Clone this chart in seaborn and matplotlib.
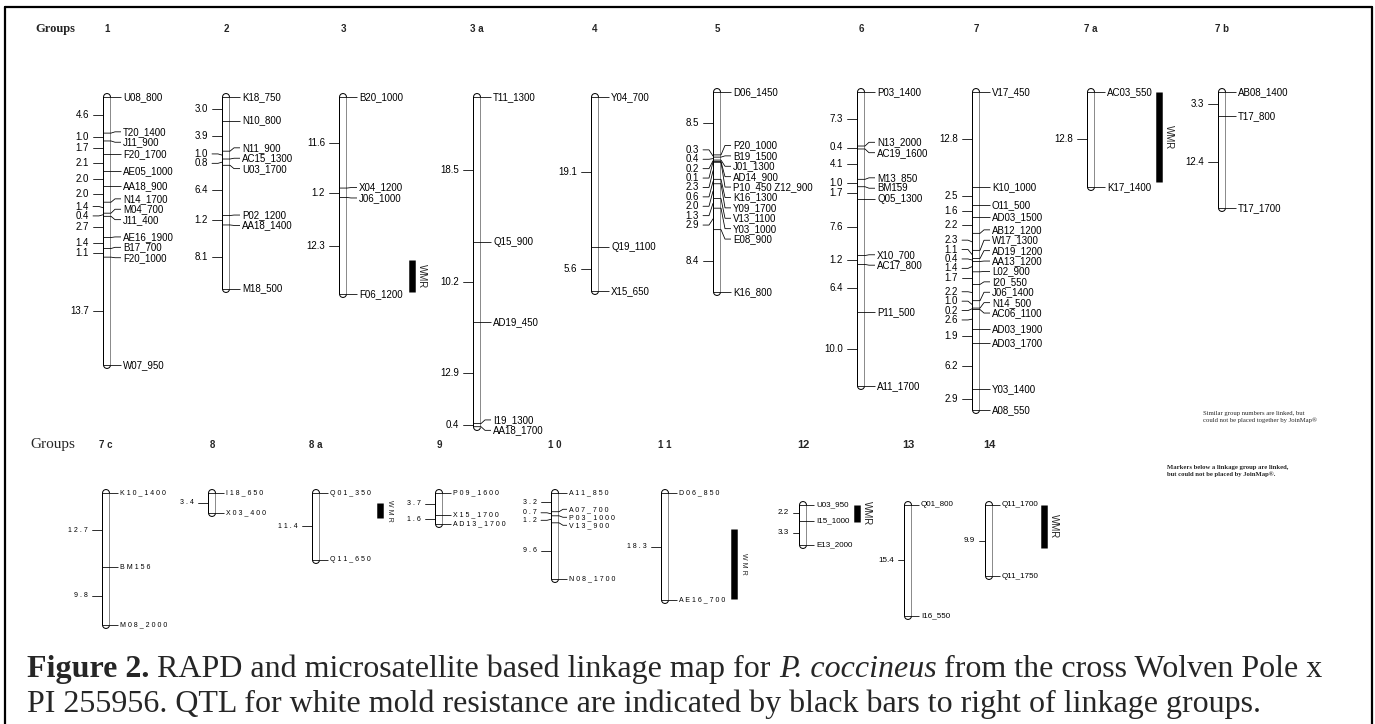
import numpy as np
import seaborn as sns
import matplotlib.pyplot as plt
from matplotlib.lines import Line2D

# --- linkage groups: marker names (top to bottom) and interval lengths (cM) ---
g1_markers = ["U08_800", "T20_1400", "J11_900", "F20_1700", "AE05_1000", "AA18_900",
              "N14_1700", "M04_700", "J11_400", "AE16_1900", "B17_700", "F20_1000", "W07_950"]
g1_cm = [4.6, 1.0, 1.7, 2.1, 2.0, 2.0, 1.4, 0.4, 2.7, 1.4, 1.1, 13.7]

g2_markers = ["K18_750", "N10_800", "N11_900", "AC15_1300", "U03_1700", "P02_1200",
              "AA18_1400", "M18_500"]
g2_cm = [3.0, 3.9, 1.0, 0.8, 6.4, 1.2, 8.1]

g3_markers = ["B20_1000", "X04_1200", "J06_1000", "F06_1200"]
g3_cm = [11.6, 1.2, 12.3]

g3a_markers = ["T11_1300", "Q15_900", "AD19_450", "I19_1300", "AA18_1700"]
g3a_cm = [18.5, 10.2, 12.9, 0.4]

g4_markers = ["Y04_700", "Q19_1100", "X15_650"]
g4_cm = [19.1, 5.6]

g5_markers = ["D06_1450", "P20_1000", "B19_1500", "J01_1300", "AD14_900", "P10_450 Z12_900",
              "K16_1300", "Y09_1700", "V13_1100", "Y03_1000", "E08_900", "K16_800"]
g5_cm = [8.5, 0.3, 0.4, 0.2, 0.1, 2.3, 0.6, 2.0, 1.3, 2.9, 8.4]

g6_markers = ["P03_1400", "N13_2000", "AC19_1600", "M13_850", "BM159", "Q05_1300",
              "X10_700", "AC17_800", "P11_500", "A11_1700"]
g6_cm = [7.3, 0.4, 4.1, 1.0, 1.7, 7.6, 1.2, 6.4, 10.0]

g7_markers = ["V17_450", "K10_1000", "O11_500", "AD03_1500", "AB12_1200", "W17_1300",
              "AD19_1200", "AA13_1200", "L02_900", "I20_550", "J06_1400", "N14_500",
              "AC06_1100", "AD03_1900", "AD03_1700", "Y03_1400", "A08_550"]
g7_cm = [12.8, 2.5, 1.6, 2.2, 2.3, 1.1, 0.4, 1.4, 1.7, 2.2, 1.0, 0.2, 2.6, 1.9, 6.2, 2.9]

g7a_markers = ["AC03_550", "K17_1400"]
g7a_cm = [12.8]

g7b_markers = ["AB08_1400", "T17_800", "T17_1700"]
g7b_cm = [3.3, 12.4]

g7c_markers = ["K10_1400", "BM156", "M08_2000"]
g7c_cm = [12.7, 9.8]

g8_markers = ["I18_650", "X03_400"]
g8_cm = [3.4]

g8a_markers = ["Q01_350", "Q11_650"]
g8a_cm = [11.4]

g9_markers = ["P09_1600", "X15_1700", "AD13_1700"]
g9_cm = [3.7, 1.6]

g10_markers = ["A11_850", "A07_700", "P03_1000", "V13_900", "N08_1700"]
g10_cm = [3.2, 0.7, 1.2, 9.6]

g11_markers = ["D06_850", "AE16_700"]
g11_cm = [18.3]

g12_markers = ["U03_950", "I15_1000", "E13_2000"]
g12_cm = [2.2, 3.3]

g13_markers = ["Q01_800", "I16_550"]
g13_cm = [15.4]

g14_markers = ["Q11_1700", "Q11_1750"]
g14_cm = [9.9]

# white mold resistance QTL (cM from top of group)
qtl_groups = ["3", "7a", "8a", "11", "12", "14"]
qtl_start = [20.8, 0.0, 1.7, 6.2, 0.0, 0.0]
qtl_end = [24.8, 12.2, 4.3, 18.1, 2.3, 6.0]

groups = [
    ("1", g1_markers, g1_cm), ("2", g2_markers, g2_cm), ("3", g3_markers, g3_cm),
    ("3a", g3a_markers, g3a_cm), ("4", g4_markers, g4_cm), ("5", g5_markers, g5_cm),
    ("6", g6_markers, g6_cm), ("7", g7_markers, g7_cm), ("7a", g7a_markers, g7a_cm),
    ("7b", g7b_markers, g7b_cm), ("7c", g7c_markers, g7c_cm), ("8", g8_markers, g8_cm),
    ("8a", g8a_markers, g8a_cm), ("9", g9_markers, g9_cm), ("10", g10_markers, g10_cm),
    ("11", g11_markers, g11_cm), ("12", g12_markers, g12_cm), ("13", g13_markers, g13_cm),
    ("14", g14_markers, g14_cm),
]

# --- layout (pixels): centre x, top y, px per cM, style, header text ---
W, H = 1375, 724
PX = 0.72  # points per pixel at dpi 100
layout = {
    "1": (107, 97, 7.85, "top", "1"), "2": (226, 97, 7.85, "top", "2"),
    "3": (343, 97, 7.85, "top", "3"), "3a": (477, 97, 7.85, "top", "3 a"),
    "4": (595, 97, 7.85, "top", "4"), "5": (717, 92, 7.4, "top", "5"),
    "6": (861, 92, 7.4, "top", "6"), "7": (976, 92, 7.4, "top", "7"),
    "7a": (1091, 92, 7.4, "top", "7 a"), "7b": (1222, 92, 7.4, "top", "7 b"),
    "7c": (106, 493, 5.85, "small", "7 c"), "8": (212, 493, 5.85, "small", "8"),
    "8a": (316, 493, 5.85, "small", "8 a"), "9": (439, 493, 5.85, "small", "9"),
    "10": (555, 493, 5.85, "small", "1 0"), "11": (665, 493, 5.85, "small", "1 1"),
    "12": (803, 505, 7.2, "mid", "12"), "13": (908, 505, 7.2, "mid", "13"),
    "14": (989, 505, 7.2, "mid", "14"),
}
styles = {
    "top": dict(size=7, head=7, gap_m=10.4, gap_d=9.4, lab_dx=16, dist_dx=18, spaced=False),
    "small": dict(size=5, head=7, gap_m=8.0, gap_d=7.5, lab_dx=14, dist_dx=18, spaced=True),
    "mid": dict(size=5.8, head=8, gap_m=9.5, gap_d=9.0, lab_dx=13, dist_dx=14, spaced=False),
}
qtl_dx = {"3": 69, "7a": 68, "8a": 64, "11": 69, "12": 54, "14": 55}

sns.set_theme(style="white")
plt.rcParams["font.family"] = ["Liberation Sans", "DejaVu Sans"]
SANS = ["Liberation Sans", "DejaVu Sans"]
SERIF = ["Liberation Serif", "DejaVu Serif"]


def spread(want, gap):
    # push overlapping labels apart, clusters centred on their extremes
    clusters = [[w, w, 1] for w in want]

    def start(c):
        return (c[0] + c[1]) / 2 - (c[2] - 1) * gap / 2

    merged = True
    while merged:
        merged = False
        for k in range(len(clusters) - 1):
            a, b = clusters[k], clusters[k + 1]
            if start(a) + a[2] * gap > start(b) + 1e-9:
                clusters[k] = [a[0], b[1], a[2] + b[2]]
                del clusters[k + 1]
                merged = True
                break
    out = []
    for c in clusters:
        s = start(c)
        out += [s + i * gap for i in range(c[2])]
    return np.array(out)


def fmt(s, spaced):
    return " ".join(s) if spaced else s


fig = plt.figure(figsize=(W / 100, H / 100), dpi=100)

for name, markers, cm in groups:
    cx, top, scale, sty, head = layout[name]
    st = styles[sty]
    pos = np.concatenate([[0.0], np.cumsum(cm)])
    total = pos[-1]
    ax = fig.add_axes([(cx - 90) / W, 1 - (top + total * scale) / H, 180 / W, total * scale / H])
    ax.set_xlim(-90, 90)
    ax.set_ylim(total, 0)
    ax.axis("off")

    # chromosome rod
    ax.plot([0, 0], [0, total], color="black", lw=8 * PX, solid_capstyle="round", clip_on=False)
    ax.plot([0, 0], [0, total], color="white", lw=6 * PX, solid_capstyle="round", clip_on=False)
    ax.plot([2.6, 2.6], [0, total], color="0.55", lw=1.0 * PX, clip_on=False)

    # markers on the right
    lab = spread(pos * scale, st["gap_m"]) / scale
    for m, yt, yl in zip(markers, pos, lab):
        ax.plot([-4, 4, 8, st["lab_dx"] - 2], [yt, yt, yl, yl], color="black",
                lw=0.8 * PX, clip_on=False, solid_capstyle="butt")
        ax.text(st["lab_dx"], yl, fmt(m, st["spaced"]), ha="left", va="center",
                fontsize=st["size"], color="black", family=SANS)

    # interval distances on the left
    mids = (pos[:-1] + pos[1:]) / 2
    dlab = spread(mids * scale, st["gap_d"]) / scale
    for d, yt, yl in zip(cm, mids, dlab):
        ax.plot([-4, -8, -(st["dist_dx"] - 4)], [yt, yl, yl], color="black",
                lw=0.8 * PX, clip_on=False)
        ax.text(-st["dist_dx"], yl, fmt(f"{d:.1f}", st["spaced"]), ha="right", va="center",
                fontsize=st["size"], color="black", family=SANS)

    # QTL bar
    if name in qtl_groups:
        k = qtl_groups.index(name)
        bx = qtl_dx[name]
        ax.plot([bx, bx], [qtl_start[k], qtl_end[k]], color="black", lw=6.5 * PX,
                solid_capstyle="butt", clip_on=False)
        wsize = 5 if st["spaced"] else 7
        ax.text(bx + 10, (qtl_start[k] + qtl_end[k]) / 2, fmt("WMR", st["spaced"]),
                rotation=-90, ha="center", va="center", fontsize=wsize, family=SANS)

    hy = 29 if top < 200 else 445
    fig.text(cx / W, 1 - hy / H, head, ha="center", va="center",
             fontsize=st["head"], fontweight="bold", family=SANS)

# row titles and notes
fig.text(35 / W, 1 - 29 / H, "Groups", ha="left", va="center", fontsize=9,
         fontweight="bold", family=SERIF)
fig.text(30 / W, 1 - 445 / H, "Groups", ha="left", va="center", fontsize=11,
         family=SERIF)
fig.text(1203 / W, 1 - 411 / H,
         "Similar group numbers are linked, but\ncould not be placed together by JoinMap®",
         ha="left", va="top", fontsize=4.8, family=SERIF, linespacing=1.3)
fig.text(1167 / W, 1 - 465 / H,
         "Markers below a linkage group are linked,\nbut could not be placed by JoinMap®.",
         ha="left", va="top", fontsize=4.8, fontweight="bold", family=SERIF,
         linespacing=1.3)

# caption, pieces placed one after another
renderer = fig.canvas.get_renderer()
CAP = 23


def text_width(s, **kw):
    t = fig.text(0, 0, s, fontsize=CAP, family=SERIF, **kw)
    w = t.get_window_extent(renderer).width
    t.remove()
    return w


space_w = text_width("x x") - text_width("xx")
caption_lines = [
    (677, [("Figure 2.", "bold", "normal"),
           ("RAPD and microsatellite based linkage map for", "normal", "normal"),
           ("P. coccineus", "normal", "italic"),
           ("from the cross Wolven Pole x", "normal", "normal")]),
    (712, [("PI 255956. QTL for white mold resistance are indicated by black bars to right of linkage groups.",
            "normal", "normal")]),
]
for base_y, pieces in caption_lines:
    x = 27
    for s, weight, style in pieces:
        t = fig.text(x / W, 1 - base_y / H, s, ha="left", va="baseline", fontsize=CAP,
                     family=SERIF, fontweight=weight, fontstyle=style)
        x = t.get_window_extent(renderer).x1 + space_w

# frame
for xs, ys in [([5, 5], [7, H]), ([5, 1372], [7, 7]), ([1372, 1372], [7, H])]:
    fig.add_artist(Line2D([x / W for x in xs], [1 - y / H for y in ys],
                          transform=fig.transFigure, color="black", lw=1.6))

fig.savefig("out.png", dpi=100)
